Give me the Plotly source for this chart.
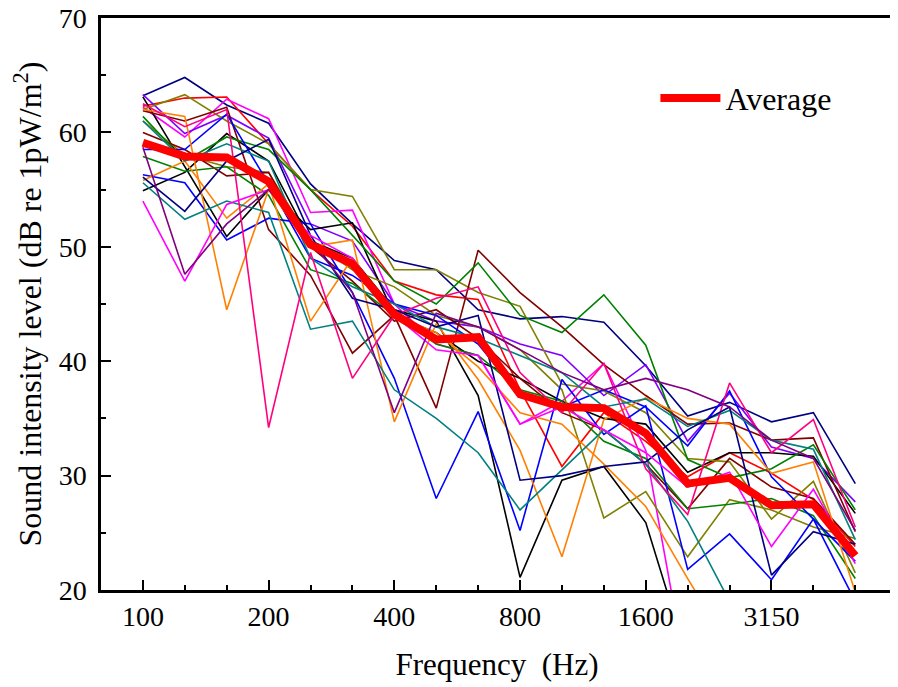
# coding: utf-8

#        libraries
# -----------------------------
import plotly.graph_objects as go
# -----------------------------

# 1/3 octave bands (Hz)
bands = ['100', '125', '160', '200', '250', '315', '400', '500', '630',
         '800', '1000', '1250', '1600', '2000', '2500', '3150', '4000', '5000']
tick_labels = ['100', '200', '400', '800', '1600', '3150']

# measured curves (dB re 1pW/m2)
navy_a = [63.2, 64.8, 62.4, 60.8, 55.5, 52.0, 48.8, 48.0, 44.5, 43.7, 43.9, 43.4, 39.6, 35.2, 36.4, 34.7, 35.5, 29.3]
red_1 = [62.3, 63.0, 63.1, 59.0, 55.0, 51.8, 47.0, 45.8, 45.4, 37.5, 30.8, 35.5, 33.0, 29.9, 32.0, 30.2, 27.9, 23.8]
magenta_1 = [62.2, 59.6, 62.9, 61.2, 53.0, 53.2, 45.0, 41.5, 40.5, 34.5, 36.5, 39.8, 32.2, 12.0, None, None, None, None]
violet = [63.3, 59.9, 61.5, 59.5, 52.0, 50.5, 45.0, 43.5, 43.0, 41.5, 40.5, 37.0, 39.7, 33.0, 37.2, 32.5, 31.5, 27.7]
black_1 = [63.1, 57.0, 50.9, 55.0, 51.5, 52.1, 44.0, 42.5, 40.0, 38.5, 36.5, 35.0, 34.5, 30.3, 32.0, 32.0, 31.7, 26.7]
black_2 = [54.9, 56.5, 59.9, 57.5, 50.5, 49.0, 44.5, 43.5, 37.0, 21.1, 29.6, 30.8, 25.9, 14.0, None, None, None, None]
olive_1 = [62.0, 63.3, 61.0, 59.0, 55.0, 54.4, 48.0, 48.0, 46.0, 44.8, 38.0, 37.4, 35.5, 31.5, 31.2, 26.2, 29.5, 21.5]
olive_2 = [61.0, 58.0, 57.0, 56.5, 50.5, 48.0, 46.5, 44.0, 43.0, 41.0, 37.5, 26.3, 28.6, 22.9, 27.9, 27.0, 25.5, 24.5]
wine_1 = [61.9, 61.0, 62.2, 51.5, 47.5, 40.7, 44.0, 35.9, 49.7, 46.0, 43.0, 39.7, 37.0, 34.5, 34.6, 33.1, 33.3, 25.1]
wine_2 = [60.0, 58.5, 56.2, 56.5, 50.0, 47.0, 43.5, 44.5, 42.0, 38.5, 35.5, 34.0, 31.0, 27.1, 31.5, 29.0, 28.0, 24.0]
green_1 = [61.4, 57.5, 59.6, 58.5, 55.0, 51.0, 47.0, 45.0, 48.6, 44.0, 42.5, 45.8, 41.4, 31.4, 29.8, 30.6, 32.7, 27.0]
green_2 = [57.9, 56.6, 57.0, 54.5, 48.0, 46.8, 44.0, 41.5, 40.5, 37.5, 36.5, 33.0, 31.5, 27.1, 27.5, 28.0, 26.5, 21.0]
blue_1 = [56.3, 55.6, 50.6, 52.5, 52.0, 46.0, 38.5, 28.0, 35.6, 25.2, 38.4, 33.6, 36.1, 21.8, 24.9, 20.9, 26.2, 22.5]
blue_2 = [58.5, 58.5, 61.6, 55.5, 49.0, 47.5, 45.0, 44.0, 41.5, 37.0, 36.0, 37.5, 36.0, 32.6, 37.4, 29.9, 26.2, 19.0]
orange_1 = [62.0, 61.4, 44.5, 55.0, 50.0, 50.6, 34.7, 43.3, 38.4, 32.2, 22.9, 34.9, 36.8, 35.0, 34.5, 30.2, 31.2, 19.8]
orange_2 = [55.8, 57.5, 52.5, 55.5, 43.5, 49.0, 44.0, 42.5, 39.5, 35.5, 34.5, 31.0, 27.3, 21.0, 15.0, None, None, None]
teal_1 = [55.6, 52.4, 54.0, 53.0, 42.8, 43.5, 37.5, 35.0, 32.0, 27.0, 30.5, 34.0, 31.0, 26.0, 19.0, None, None, None]
teal_2 = [61.0, 57.5, 59.0, 57.5, 49.0, 46.5, 45.0, 43.0, 42.0, 40.5, 39.0, 36.0, 36.7, 34.3, 35.7, 33.1, 32.3, 24.4]
pink = [62.5, 60.5, 62.0, 34.2, 49.5, 38.5, 44.0, 45.5, 46.5, 39.0, 35.5, 39.8, 30.6, 26.6, 38.1, 32.0, 34.9, 25.5]
navy_b = [56.1, 53.1, 57.5, 59.4, 51.0, 45.5, 44.5, 43.0, 44.0, 29.6, 30.0, 30.8, 31.2, 34.0, 36.0, 21.3, 25.1, 24.0]
magenta_2 = [54.0, 47.0, 53.7, 55.0, 51.0, 49.0, 44.0, 41.0, 40.5, 34.5, 36.0, 34.0, 32.0, 29.0, 30.3, 23.8, 28.8, 22.3]
purple = [58.7, 47.6, 52.0, 55.0, 50.5, 46.0, 35.5, 44.2, 43.0, 41.0, 39.0, 37.5, 38.5, 37.5, 36.0, 33.1, 31.5, 25.2]

average = [59.1, 57.9, 57.8, 55.7, 50.2, 48.5, 44.1, 41.9, 42.1, 37.1, 36.0, 35.9, 33.7, 29.3, 29.8, 27.4, 27.5, 23.0]

curves = [
    (navy_a, '#000080'), (red_1, '#FF0000'), (magenta_1, '#FF00FF'), (violet, '#8000FF'),
    (black_1, '#000000'), (black_2, '#000000'), (olive_1, '#808000'), (olive_2, '#808000'),
    (wine_1, '#800000'), (wine_2, '#800000'), (green_1, '#008000'), (green_2, '#008000'),
    (blue_1, '#0000FF'), (blue_2, '#0000FF'), (orange_1, '#FF8000'), (orange_2, '#FF8000'),
    (teal_1, '#008080'), (teal_2, '#008080'), (pink, '#FF0080'), (navy_b, '#000080'),
    (magenta_2, '#FF00FF'), (purple, '#800080'),
]

x_idx = list(range(len(bands)))
tick_idx = [bands.index(t) for t in tick_labels]

fig = go.Figure()

for yd, cl in curves:
    fig.add_trace(go.Scatter(
        x=x_idx, y=yd, mode='lines',
        line=dict(color=cl, width=1.6),
        showlegend=False, hoverinfo='skip'))

fig.add_trace(go.Scatter(
    x=x_idx, y=average, mode='lines', name='Average',
    line=dict(color='#FF0000', width=8)))

font_family = 'Liberation Serif, Times New Roman, serif'

# the page body adds an 8 px offset, margins below make up for it
fig.update_layout(
    width=898, height=687,
    margin=dict(l=93, r=13, t=10, b=105),
    paper_bgcolor='white', plot_bgcolor='white',
    font=dict(family=font_family, size=28, color='black'),
    legend=dict(x=0.7, y=0.86, xanchor='left', yanchor='middle',
                bgcolor='rgba(0,0,0,0)', font=dict(size=32),
                itemwidth=60),
)

fig.update_xaxes(
    range=[-1, 17.9], showgrid=False, zeroline=False, automargin=False,
    tickmode='array', tickvals=tick_idx, ticktext=tick_labels,
    ticks='inside', ticklen=10, tickwidth=2, tickcolor='black',
    minor=dict(tickmode='array', tickvals=x_idx, ticks='inside', ticklen=5,
               tickwidth=1.5, tickcolor='black'),
    showline=True, linecolor='black', linewidth=2.5, mirror=True,
    tickfont=dict(size=28), ticklabeloverflow='allow',
    title=dict(text='Frequency\u00a0 (Hz)', font=dict(size=31), standoff=22))

fig.update_yaxes(
    range=[20, 70], showgrid=False, zeroline=False, automargin=False,
    dtick=10, ticks='inside', ticklen=10, tickwidth=2, tickcolor='black',
    minor=dict(dtick=5, ticks='inside', ticklen=5, tickwidth=1.5, tickcolor='black'),
    showline=True, linecolor='black', linewidth=2.5, mirror=True,
    tickfont=dict(size=28), ticklabelstandoff=6, ticklabeloverflow='allow',
    title=dict(text='Sound intensity level (dB re 1pW/m<sup>2</sup>)',
               font=dict(size=32), standoff=8))

fig.write_html("out.html")
